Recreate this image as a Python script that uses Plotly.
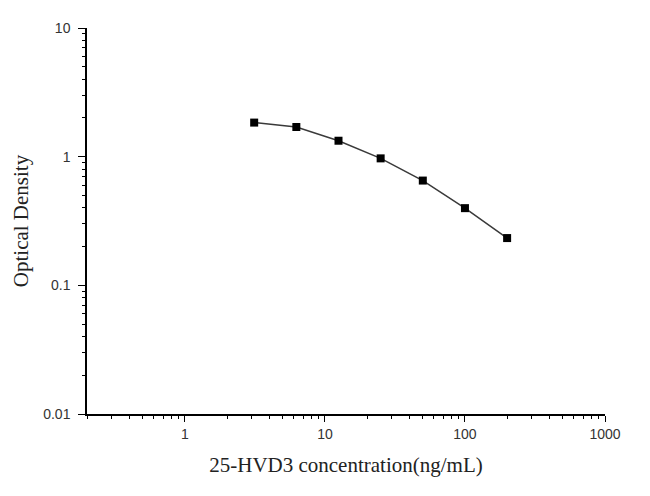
import plotly.graph_objects as go

# standard curve: concentration (ng/mL) vs optical density
conc = [3.125, 6.25, 12.5, 25, 50, 100, 200]
od = [1.84, 1.70, 1.33, 0.97, 0.652, 0.398, 0.233]

x_ticks = [1, 10, 100, 1000]
x_labels = ["1", "10", "100", "1000"]
y_ticks = [0.01, 0.1, 1, 10]
y_labels = ["0.01", "0.1", "1", "10"]

fig = go.Figure()
fig.add_trace(go.Scatter(
    x=conc, y=od, mode="lines+markers",
    line=dict(color="#3a3a3a", width=1.5),
    marker=dict(symbol="square", size=8, color="black"),
    showlegend=False,
))

axis_font = dict(family="Liberation Sans, Arial", size=14, color="#333333")
title_font = dict(family="Liberation Serif, Times New Roman", size=21, color="#222222")

fig.update_xaxes(
    type="log", range=[-0.699, 3],
    tickvals=x_ticks, ticktext=x_labels,
    ticks="outside", ticklen=6, tickwidth=1.2, tickcolor="black",
    minor=dict(ticks="outside", ticklen=3, tickcolor="black", dtick="D1", showgrid=False),
    showline=True, linecolor="black", linewidth=1.5,
    showgrid=False, zeroline=False,
    tickfont=axis_font,
    title=dict(text="25-HVD3 concentration(ng/mL)", font=title_font, standoff=17),
)
fig.update_yaxes(
    type="log", range=[-2, 1],
    tickvals=y_ticks, ticktext=y_labels,
    ticks="outside", ticklen=7, tickwidth=1.2, tickcolor="black",
    ticklabelstandoff=5,
    minor=dict(ticks="outside", ticklen=3, tickcolor="black", dtick="D1", showgrid=False),
    showline=True, linecolor="black", linewidth=1.5,
    showgrid=False, zeroline=False,
    tickfont=axis_font,
    title=dict(text="Optical Density", font=title_font, standoff=9),
)

# page body adds an 8px offset, margins are trimmed to match
fig.update_layout(
    width=650, height=496,
    margin=dict(l=75, r=53, t=19, b=90),
    plot_bgcolor="white", paper_bgcolor="white",
)

fig.write_html("out.html")
